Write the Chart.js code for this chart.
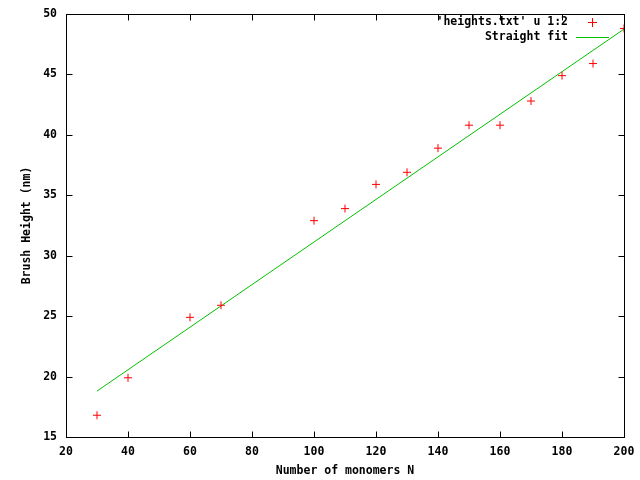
<!DOCTYPE html>
<html>
<head>
<meta charset="utf-8">
<script src="https://cdn.jsdelivr.net/npm/chart.js@4/dist/chart.umd.min.js"></script>
<style>
  html, body { margin: 0; padding: 0; background: #fff; }
  #wrap { width: 640px; height: 480px; }
</style>
</head>
<body>
<div id="wrap"><canvas id="fitChart" width="640" height="480"></canvas></div>
<script>
// data
const monomers = [30, 40, 60, 70, 100, 110, 120, 130, 140, 150, 160, 170, 180, 190, 200];
const heights = [16.8, 19.9, 24.9, 25.9, 32.9, 33.9, 35.9, 36.9, 38.9, 40.8, 40.8, 42.8, 44.9, 45.9, 48.8];
const fitX = [30, 200];
const fitY = [18.8, 48.75];
const xTicks = [20, 40, 60, 80, 100, 120, 140, 160, 180, 200];
const yTicks = [15, 20, 25, 30, 35, 40, 45, 50];

const FONT = "'DejaVu Sans Mono', 'Liberation Mono', monospace";
const FSIZE = 11.5;
const RED = "#ff0000";
const GREEN = "#00c000";

// gnuplot style frame: border box with inward ticks on all sides + legend
const gnuplotFrame = {
  id: "gnuplotFrame",
  afterDatasetsDraw(chart) {
    const ctx = chart.ctx;
    const a = chart.chartArea;
    const xs = chart.scales.x, ys = chart.scales.y;
    const L = Math.round(a.left) + 0.5, R = Math.round(a.right) + 0.5;
    const T = Math.round(a.top) + 0.5, B = Math.round(a.bottom) + 0.5;
    ctx.save();
    ctx.strokeStyle = "#000";
    ctx.lineWidth = 1;
    ctx.strokeRect(L, T, R - L, B - T);
    ctx.beginPath();
    const tl = 6;
    xTicks.forEach(v => {
      const px = Math.round(xs.getPixelForValue(v)) + 0.5;
      ctx.moveTo(px, B); ctx.lineTo(px, B - tl);
      ctx.moveTo(px, T); ctx.lineTo(px, T + tl);
    });
    yTicks.forEach(v => {
      const py = Math.round(ys.getPixelForValue(v)) + 0.5;
      ctx.moveTo(L, py); ctx.lineTo(L + tl, py);
      ctx.moveTo(R, py); ctx.lineTo(R - tl, py);
    });
    ctx.stroke();

    // key, top right
    ctx.font = "bold " + FSIZE + "px " + FONT;
    ctx.fillStyle = "#000";
    ctx.textAlign = "right";
    ctx.textBaseline = "middle";
    ctx.fillText("'heights.txt' u 1:2", 568, 22);
    ctx.fillText("Straight fit", 568, 37);
    ctx.strokeStyle = RED;
    ctx.beginPath();
    ctx.moveTo(588, 22.5); ctx.lineTo(597, 22.5);
    ctx.moveTo(592.5, 18); ctx.lineTo(592.5, 27);
    ctx.stroke();
    ctx.strokeStyle = GREEN;
    ctx.beginPath();
    ctx.moveTo(576, 37.5); ctx.lineTo(609, 37.5);
    ctx.stroke();
    ctx.restore();
  }
};

window.addEventListener("load", drawChart);

function drawChart() {
  const CHART = document.getElementById("fitChart");
  const tickFont = { family: FONT, size: FSIZE, weight: "bold" };
  new Chart(CHART, {
    type: "scatter",
    data: {
      datasets: [
        {
          label: "'heights.txt' u 1:2",
          data: monomers.map((n, i) => ({ x: n, y: heights[i] })),
          pointStyle: "cross",
          pointRadius: 4,
          pointBorderWidth: 1,
          borderColor: RED,
          backgroundColor: RED,
          order: 1
        },
        {
          label: "Straight fit",
          type: "line",
          data: fitX.map((n, i) => ({ x: n, y: fitY[i] })),
          showLine: true,
          pointRadius: 0,
          borderColor: GREEN,
          borderWidth: 1,
          fill: false,
          order: 2
        }
      ]
    },
    options: {
      responsive: false,
      animation: false,
      layout: { padding: { top: 14, right: 16, left: 0, bottom: 0 } },
      plugins: {
        legend: { display: false },
        tooltip: { enabled: false }
      },
      scales: {
        x: {
          type: "linear",
          min: 20,
          max: 200,
          afterFit: s => { s.height = 43; s.paddingLeft = 0; s.paddingRight = 0; },
          afterBuildTicks: s => { s.ticks = xTicks.map(v => ({ value: v })); },
          grid: { display: false, drawTicks: false },
          border: { display: false },
          ticks: { padding: 8, color: "#000", maxRotation: 0, font: tickFont },
          title: {
            display: true,
            text: "Number of monomers N",
            color: "#000",
            padding: { top: 0, bottom: 2 },
            font: tickFont
          }
        },
        y: {
          type: "linear",
          min: 15,
          max: 50,
          afterFit: s => { s.width = 66; s.paddingTop = 0; s.paddingBottom = 0; },
          afterBuildTicks: s => { s.ticks = yTicks.map(v => ({ value: v })); },
          grid: { display: false, drawTicks: false },
          border: { display: false },
          ticks: { padding: 9, color: "#000", font: tickFont },
          title: {
            display: true,
            text: "Brush Height (nm)",
            color: "#000",
            padding: { top: 20, bottom: 0 },
            font: tickFont
          }
        }
      }
    },
    plugins: [gnuplotFrame]
  });
}
</script>
</body>
</html>
